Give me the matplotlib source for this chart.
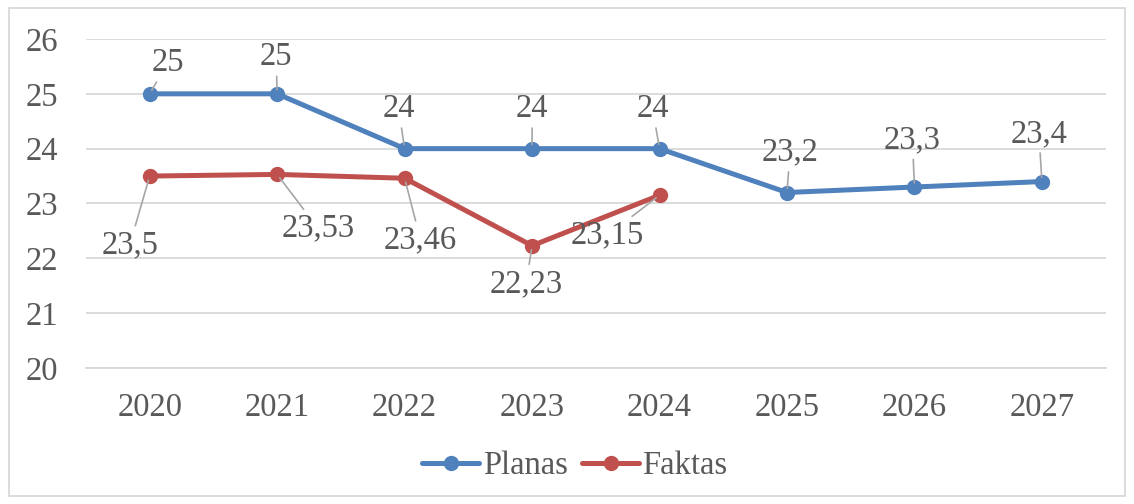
import matplotlib.pyplot as plt
from matplotlib.patches import Rectangle

# Data
years = ["2020", "2021", "2022", "2023", "2024", "2025", "2026", "2027"]
planas = [25, 25, 24, 24, 24, 23.2, 23.3, 23.4]
faktas = [23.5, 23.53, 23.46, 22.23, 23.15]
y_ticks = [20, 21, 22, 23, 24, 25, 26]

# label offsets in pixels (style, not data)
planas_off = [(18, 31), (-1, 37), (-6, 40), (0, 40), (-7, 40), (3, 40), (-2, 47), (-3, 48)]
faktas_off = [(-20, -69), (41, -54), (16, -62), (-6, -38), (-52, -40)]

BLUE = "#4F81BD"
RED = "#C0504D"
TXT = "#595959"
GRID = "#D9D9D9"
FS = 23.5

plt.rcParams["font.family"] = ["Liberation Serif", "DejaVu Serif"]

fig = plt.figure(figsize=(11.34, 5.04), dpi=100)
ax = fig.add_axes([0.0758, 0.270, 0.8992, 0.6526])

x_pl = list(range(len(planas)))
x_fk = list(range(len(faktas)))
ax.plot(x_pl, planas, color=BLUE, lw=3.6, marker="o", ms=10, label="Planas",
        solid_capstyle="round", zorder=3)
ax.plot(x_fk, faktas, color=RED, lw=3.6, marker="o", ms=10, label="Faktas",
        solid_capstyle="round", zorder=3)


def fmt(v):
    return ("%g" % v).replace(".", ",")


for xs, ys, offs in [(x_pl, planas, planas_off), (x_fk, faktas, faktas_off)]:
    for xi, yi, off in zip(xs, ys, offs):
        ax.annotate(fmt(yi), (xi, yi), xytext=off, textcoords="offset pixels",
                    ha="center", va="center", fontsize=FS, color=TXT,
                    arrowprops=dict(arrowstyle="-", color="#A6A6A6", lw=1.2,
                                    shrinkA=1, shrinkB=3),
                    zorder=4)

ax.set_xlim(-0.5, len(years) - 0.5)
ax.set_ylim(20, 26)
ax.set_yticks(y_ticks)
ax.set_xticks(range(len(years)))
ax.set_xticklabels(years)
ax.grid(axis="y", color=GRID, lw=1.3)
ax.set_axisbelow(True)
for s in ["top", "left", "right"]:
    ax.spines[s].set_visible(False)
ax.spines["bottom"].set_color(GRID)
ax.spines["bottom"].set_linewidth(1.3)
ax.tick_params(axis="both", length=0, labelsize=FS, labelcolor=TXT)
ax.tick_params(axis="y", pad=20)
ax.tick_params(axis="x", pad=18)

fig.legend(loc="center", bbox_to_anchor=(0.507, 0.075), ncol=2, frameon=False,
           fontsize=FS, labelcolor=TXT, handlelength=1.75, handletextpad=0.1,
           columnspacing=0.45)

fig.patches.append(Rectangle((0.008, 0.016), 0.984, 0.968, transform=fig.transFigure,
                             fill=False, edgecolor=GRID, lw=1.3))

fig.savefig("out.png", dpi=100)
